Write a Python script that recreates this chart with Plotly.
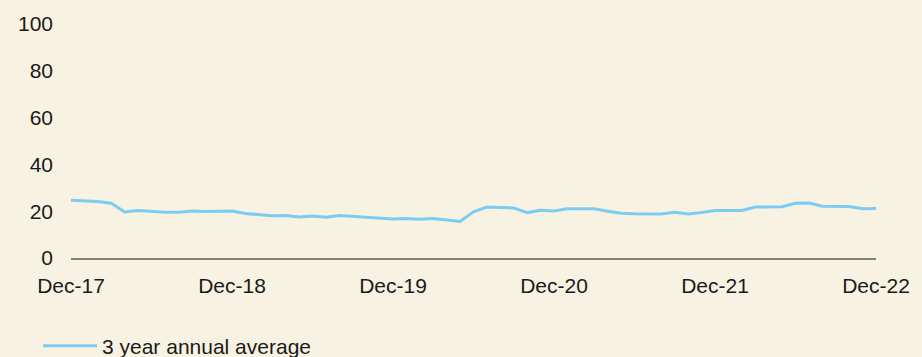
import pandas as pd
import plotly.graph_objects as go

# Monthly observations, Dec-2017 through Dec-2022
months = [d.strftime("%b-%y") for d in pd.date_range("2017-12-01", "2022-12-01", freq="MS")]

three_year_avg = [
    24.7, 24.4, 24.1, 23.4, 19.7, 20.3, 19.9, 19.5, 19.6, 20.1, 19.9, 20.0,
    20.1, 19.0, 18.7, 18.1, 18.2, 17.5, 17.9, 17.4, 18.2, 17.9, 17.3, 17.0,
    16.7, 16.9, 16.6, 16.9, 16.3, 15.6, 19.7, 21.8, 21.6, 21.4, 19.4, 20.4,
    20.1, 21.0, 21.0, 21.0, 20.0, 19.1, 18.9, 18.9, 18.8, 19.6, 18.8, 19.4,
    20.3, 20.3, 20.3, 21.8, 21.8, 21.9, 23.4, 23.5, 22.1, 22.0, 22.0, 21.1,
    21.2,
]

x_ticks = ["Dec-17", "Dec-18", "Dec-19", "Dec-20", "Dec-21", "Dec-22"]
y_ticks = [0, 20, 40, 60, 80, 100]

BG = "#F8F2E2"
LINE = "#7DCBF3"
TEXT = "#1A1A1A"
FONT = "Liberation Sans, Arial, Helvetica, sans-serif"

fig = go.Figure()
fig.add_trace(go.Scatter(
    x=months,
    y=three_year_avg,
    mode="lines",
    name="3 year annual average",
    line=dict(color=LINE, width=3),
))

fig.update_layout(
    width=922,
    height=357,
    margin=dict(l=71, r=39, t=24, b=99),
    paper_bgcolor=BG,
    plot_bgcolor=BG,
    font=dict(family=FONT, size=21, color=TEXT),
    showlegend=True,
    legend=dict(
        orientation="h",
        x=38 / 922, xref="container", xanchor="left",
        y=1 - 346 / 357, yref="container", yanchor="middle",
        itemwidth=54,
        bgcolor="rgba(0,0,0,0)",
        font=dict(family=FONT, size=21, color=TEXT),
    ),
)

fig.update_xaxes(
    type="category",
    range=[0, len(months) - 1],
    tickmode="array",
    tickvals=x_ticks,
    ticktext=x_ticks,
    showgrid=False,
    zeroline=False,
    showline=True,
    linecolor="#858076",
    linewidth=1.5,
    ticks="",
    ticklabelstandoff=8,
)

fig.update_yaxes(
    range=[0, 100],
    tickmode="array",
    tickvals=y_ticks,
    showgrid=False,
    zeroline=False,
    showline=False,
    ticks="",
    ticklabelstandoff=17,
)

fig.write_html("out.html")
